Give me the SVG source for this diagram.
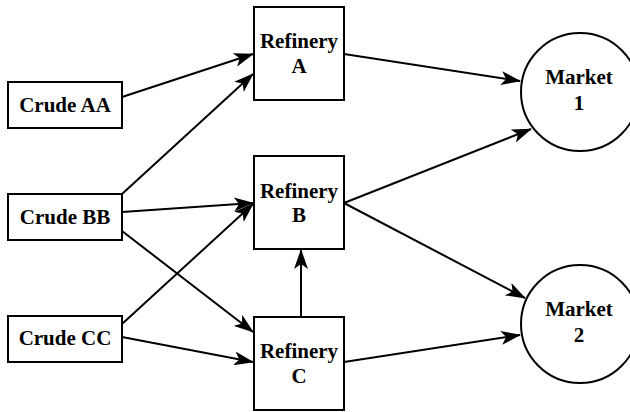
<svg xmlns="http://www.w3.org/2000/svg" width="630" height="412" viewBox="0 0 630 412">
<defs>
<style>
.box{fill:#fff;stroke:#000;stroke-width:2}
.t{font-family:"Liberation Serif","Times New Roman",serif;font-weight:bold;font-size:21px;text-anchor:middle;fill:#000}
.e{fill:none;stroke:#000;stroke-width:2;marker-end:url(#ah)}
</style>
<marker id="ah" viewBox="0 0 20 14" refX="19" refY="7" markerWidth="20" markerHeight="14" markerUnits="userSpaceOnUse" orient="auto">
<path d="M0,0 L20,7 L0,14 L5,7 Z" fill="#000"/>
</marker>
</defs>
<rect width="630" height="412" fill="#fff"/>
<g id="connectors">
<line class="e" x1="122" y1="97" x2="253" y2="54"/>
<line class="e" x1="122" y1="194" x2="253" y2="74"/>
<line class="e" x1="122" y1="212" x2="253" y2="203"/>
<line class="e" x1="122" y1="231" x2="253" y2="332"/>
<line class="e" x1="122" y1="324" x2="253" y2="204"/>
<line class="e" x1="122" y1="337" x2="253" y2="362"/>
<line class="e" x1="301" y1="317" x2="301" y2="250"/>
<line class="e" x1="344" y1="54" x2="520" y2="81"/>
<line class="e" x1="344" y1="203" x2="531" y2="129"/>
<line class="e" x1="344" y1="203" x2="525" y2="298"/>
<line class="e" x1="344" y1="362" x2="520" y2="335"/>
</g>
<g id="crudeAA"><rect class="box" x="8" y="82" width="114" height="46"/><text class="t" x="65" y="112">Crude AA</text></g>
<g id="crudeBB"><rect class="box" x="8" y="194" width="114" height="46"/><text class="t" x="65" y="224">Crude BB</text></g>
<g id="crudeCC"><rect class="box" x="8" y="316" width="114" height="46"/><text class="t" x="65" y="345">Crude CC</text></g>
<g id="refineryA"><rect class="box" x="254" y="7" width="90" height="93"/><text class="t" x="299" y="48">Refinery</text><text class="t" x="299" y="73">A</text></g>
<g id="refineryB"><rect class="box" x="254" y="156" width="90" height="93"/><text class="t" x="299" y="198">Refinery</text><text class="t" x="299" y="222">B</text></g>
<g id="refineryC"><rect class="box" x="254" y="317" width="90" height="93"/><text class="t" x="299" y="358">Refinery</text><text class="t" x="299" y="383">C</text></g>
<g id="market1"><circle class="box" cx="580" cy="92" r="59"/><text class="t" x="579" y="84">Market</text><text class="t" x="579" y="110">1</text></g>
<g id="market2"><circle class="box" cx="580" cy="324" r="59"/><text class="t" x="579" y="316">Market</text><text class="t" x="579" y="342">2</text></g>
</svg>
